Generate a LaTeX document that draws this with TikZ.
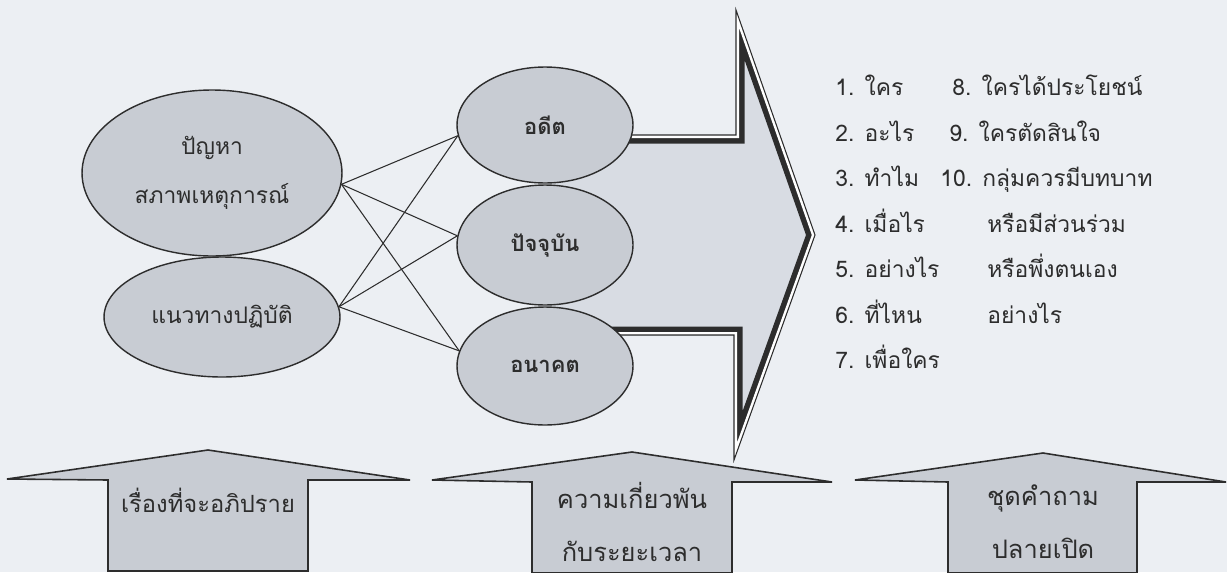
\documentclass[tikz,border=0pt]{standalone}
\usepackage{fontspec}
\newfontfamily\thaifont[Script=Thai]{Loma}
\usetikzlibrary{shapes.geometric}
\definecolor{paper}{RGB}{236,239,243}
\definecolor{ovalfill}{RGB}{200,204,211}
\definecolor{shaftfill}{RGB}{216,220,227}
\definecolor{ink}{RGB}{45,45,45}
\tikzset{
  bubble/.style={ellipse,draw=ink,line width=0.8pt,fill=ovalfill,inner sep=0pt,text=ink,
    font=\thaifont\fontsize{13}{28}\selectfont,align=center},
  timebubble/.style={bubble,minimum width=3.52cm,
    font=\thaifont\bfseries\fontsize{12.5}{28}\selectfont},
  link/.style={draw=ink,line width=0.6pt},
  item/.style={anchor=base west,inner sep=0pt,text=ink,
    font=\thaifont\fontsize{13}{16}\selectfont},
  uparrow/.style={draw=ink,fill=ovalfill,line width=0.9pt,line join=miter},
  arrowtext/.style={text=ink,align=center,
    font=\thaifont\fontsize{14.5}{30}\selectfont}
}
\def\bigarrowpath{(550,135) -- (736,135) -- (736,10) -- (815,235) -- (734,460) -- (734,335) -- (550,335)}
\begin{document}
\begin{tikzpicture}[x=0.02cm,y=-0.02cm]
          \useasboundingbox (0,0) rectangle (1227,572);
          \fill[paper] (0,0) rectangle (1227,572);
          \fill[shaftfill] \bigarrowpath -- cycle;
          \begin{scope}
            \clip \bigarrowpath -- cycle;
            \draw[ink,line width=0.34cm,line join=miter] \bigarrowpath;
            \draw[white,line width=0.12cm,line join=miter] \bigarrowpath;
          \end{scope}
          \draw[ink,line width=0.6pt,line join=miter] \bigarrowpath;
          \node[bubble,minimum width=5.2cm,minimum height=3.32cm] (prob) at (212,173){ปัญหา\\สภาพเหตุการณ์};
          \node[bubble,minimum width=4.72cm,minimum height=2.4cm] (act) at (222,317){แนวทางปฏิบัติ};
          \node[timebubble,minimum height=2.32cm] (past) at (545,125){อดีต};
          \node[timebubble,minimum height=2.4cm] (now) at (545,245){ปัจจุบัน};
          \node[timebubble,minimum height=2.36cm] (future) at (545,366){อนาคต};
          \draw[link] (prob.-5) -- (past.187);
          \draw[link] (prob.-5) -- (now.174);
          \draw[link] (prob.-5) -- (future.170);
          \draw[link] (act.5) -- (past.187);
          \draw[link] (act.5) -- (now.174);
          \draw[link] (act.5) -- (future.170);
          \node[item] (q1) at (835,95){1. ใคร};
          \node[item] (q2) at (835,141){2. อะไร};
          \node[item] (q3) at (835,186){3. ทำไม};
          \node[item] (q4) at (835,232){4. เมื่อไร};
          \node[item] (q5) at (835,277){5. อย่างไร};
          \node[item] (q6) at (835,323){6. ที่ไหน};
          \node[item] (q7) at (835,368){7. เพื่อใคร};
          \node[item] (q8) at (952,95){8. ใครได้ประโยชน์};
          \node[item] (q9) at (949,141){9. ใครตัดสินใจ};
          \node[item] (q10) at (940,186){10. กลุ่มควรมีบทบาท};
          \node[item] (q10b) at (987,232){หรือมีส่วนร่วม};
          \node[item] (q10c) at (987,277){หรือพึ่งตนเอง};
          \node[item] (q10d) at (987,323){อย่างไร};
          \draw[uparrow] (7,479) -- (208,450) -- (410,480) -- (308,480) -- (308,571) -- (108,571) -- (108,480) -- cycle;
          \draw[uparrow] (432,480) -- (632,452) -- (832,482) -- (732,482) -- (732,573) -- (532,573) -- (532,482) -- cycle;
          \draw[uparrow] (855,480) -- (1043,453) -- (1226,482) -- (1137,482) -- (1137,573) -- (948,573) -- (948,482) -- cycle;
          \node[arrowtext,font=\thaifont\fontsize{13.5}{30}\selectfont] (topic) at (208,500){เรื่องที่จะอภิปราย};
          \node[arrowtext] (timing) at (632,522){ความเกี่ยวพัน\\กับระยะเวลา};
          \node[arrowtext] (openq) at (1043,522){ชุดคำถาม\\ปลายเปิด};
        \end{tikzpicture}
\end{document}
